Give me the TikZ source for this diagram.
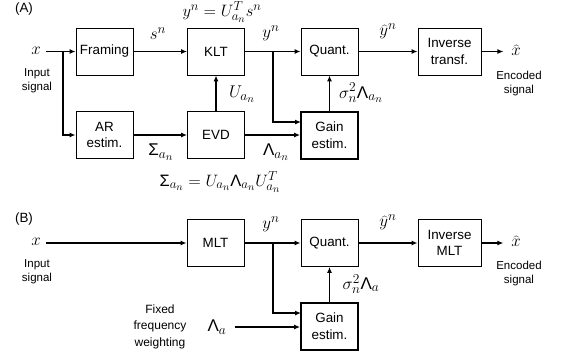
\RequirePackage{fix-cm}
\documentclass[tikz,border=0pt]{standalone}
\usepackage[no-math]{fontspec}
\setmainfont{Liberation Sans}
\DeclareMathSizes{17}{17}{13.5}{11}
\DeclareMathSizes{16.5}{16.5}{13}{10.5}
\usetikzlibrary{arrows.meta}
\begin{document}
\begin{tikzpicture}[x=1pt,y=-1pt,
  blk/.style={draw, line width=0.9pt, minimum width=57pt, minimum height=47pt, inner sep=0pt, align=center, font=\fontsize{13.4}{16.7}\selectfont},
  gblk/.style={blk, line width=1.8pt},
  con/.style={line width=1.6pt, -{Latex[length=6pt,width=5pt]}},
  lbl/.style={font=\fontsize{17}{19}\selectfont, inner sep=0pt},
  frm/.style={font=\fontsize{16.5}{18}\selectfont, inner sep=0pt},
  small/.style={font=\fontsize{11.5}{14}\selectfont, align=center, inner sep=0pt},
]
\useasboundingbox (0,0) rectangle (561,360);
% ---------- (A)
\node[inner sep=0pt, font=\fontsize{13.4}{16}\selectfont] (la) at (24,9) {(A)};
\node[frm] (fa) at (222,12) {$y^n = U_{a_n}^T s^n$};
\node[lbl] (xa) at (36,51) {$x$};
\node[small] (ina) at (37,81) {Input\\signal};
\node[blk] (fr) at (104.5,51.5) {Framing};
\node[blk] (ar) at (104.5,135) {AR\\estim.};
\node[blk] (klt) at (216,51.5) {KLT};
\node[blk] (evd) at (216,135) {EVD};
\node[blk] (qa) at (329.5,51.5) {Quant.};
\node[gblk] (ga) at (329.5,135.5) {Gain\\estim.};
\node[blk, minimum width=63pt] (ia) at (449.5,51.5) {Inverse\\transf.};
\node[lbl] (xha) at (516,50) {$\widehat{x}$};
\node[small] (enca) at (519,83.5) {Encoded\\signal};
\node[lbl] (sn) at (158,34) {$s^n$};
\node[lbl] (yna) at (271,33) {$y^n$};
\node[lbl] (yha) at (388,31) {$\widehat{y}^n$};
\node[lbl] (ua) at (242,94) {$U_{a_n}$};
\node[lbl] (siga) at (161,152) {$\mbox{Σ}_{a_n}$};
\node[lbl] (lama) at (276,152) {$\mbox{Λ}_{a_n}$};
\node[lbl] (sla) at (361,93) {$\sigma_n^2\mbox{Λ}_{a_n}$};
\node[frm] (fb) at (220,182) {$\mbox{Σ}_{a_n} = U_{a_n}\mbox{Λ}_{a_n}U_{a_n}^T$};
\coordinate (b1) at (63,52);
\coordinate (b2) at (273,52);
\coordinate (g1) at (301,122);
\draw[con, shorten <=5pt] (xa.east |- fr.west) -- (fr.west);
\draw[con] (b1) |- (ar.west);
\draw[con] (fr) -- (klt);
\draw[con] (ar) -- (evd);
\draw[con] (evd) -- (klt);
\draw[con] (klt) -- (qa);
\draw[con] (b2) |- (g1);
\draw[con] (evd.east) -- (evd.east -| ga.west);
\draw[con] (ga) -- (qa);
\draw[con] (qa) -- (ia);
\draw[con] (ia.east) -- ++(22,0);
% ---------- (B)
\node[inner sep=0pt, font=\fontsize{13.4}{16}\selectfont] (lb) at (24,219) {(B)};
\node[lbl] (xb) at (36,242) {$x$};
\node[small] (inb) at (37,272) {Input\\signal};
\node[blk] (mlt) at (215.5,243) {MLT};
\node[blk] (qb) at (329.5,243) {Quant.};
\node[gblk] (gb) at (329.5,326.5) {Gain\\estim.};
\node[blk, minimum width=63pt] (ib) at (449.5,243) {Inverse\\MLT};
\node[lbl] (xhb) at (516,241) {$\widehat{x}$};
\node[small] (encb) at (519,274) {Encoded\\signal};
\node[lbl] (ynb) at (271,224) {$y^n$};
\node[lbl] (yhb) at (388,222) {$\widehat{y}^n$};
\node[lbl] (slb) at (361,284) {$\sigma_n^2\mbox{Λ}_a$};
\node[small, font=\fontsize{12}{16.5}\selectfont] (fix) at (160,326.5) {Fixed\\frequency\\weighting};
\node[lbl] (lamb) at (217,327) {$\mbox{Λ}_a$};
\coordinate (b3) at (273,243);
\coordinate (g2) at (301,313);
\draw[con, shorten <=5pt] (xb.east |- mlt.west) -- (mlt.west);
\draw[con] (mlt) -- (qb);
\draw[con] (b3) |- (g2);
\draw[con, shorten <=8pt] (lamb.east) -- (lamb.east -| gb.west);
\draw[con] (gb) -- (qb);
\draw[con] (qb) -- (ib);
\draw[con] (ib.east) -- ++(22,0);
\end{tikzpicture}
\end{document}
